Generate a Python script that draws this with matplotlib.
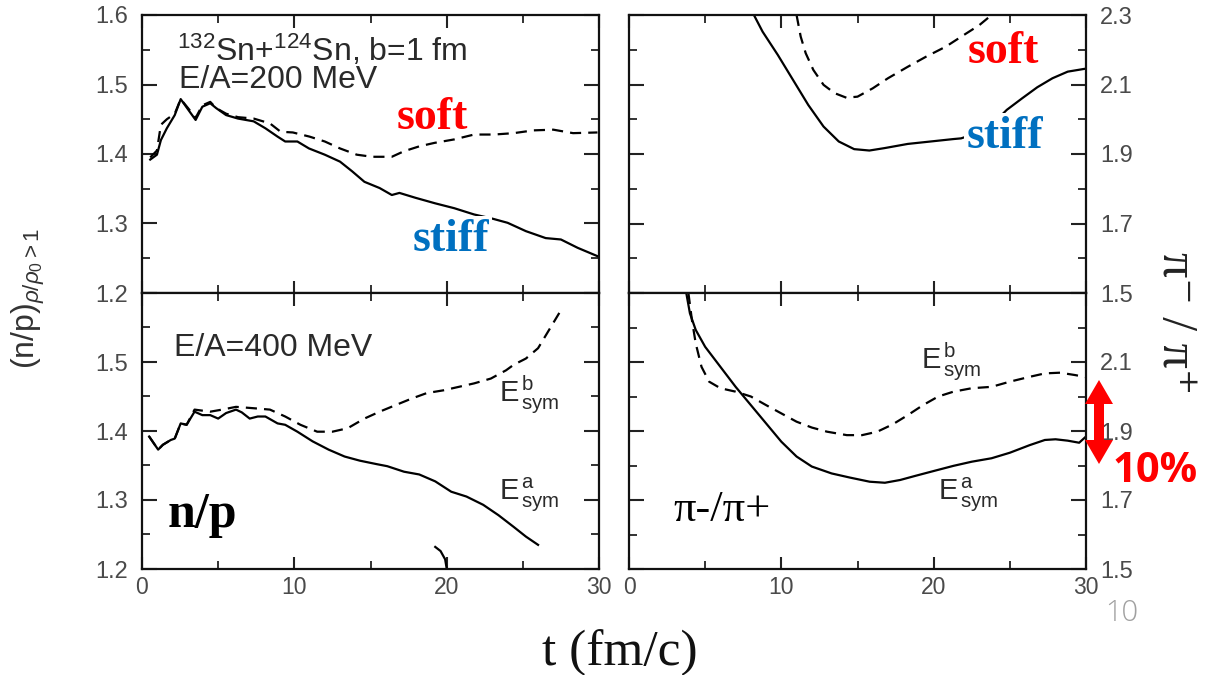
import matplotlib
matplotlib.use('Agg')
import matplotlib.pyplot as plt
from matplotlib.patches import Polygon
from matplotlib.ticker import MultipleLocator

plt.rcParams['font.family'] = ['Liberation Sans', 'DejaVu Sans']
plt.rcParams['mathtext.fontset'] = 'custom'
plt.rcParams['mathtext.rm'] = 'Liberation Sans'
plt.rcParams['mathtext.it'] = 'Liberation Sans:italic'
plt.rcParams['mathtext.bf'] = 'Liberation Sans:bold'

# ---------------- data ----------------
x_ticks = [0, 10, 20, 30]
x_tick_labels = ['0', '10', '20', '30']
np_ticks = [1.2, 1.3, 1.4, 1.5, 1.6]
np_labels_top = ['1.2', '1.3', '1.4', '1.5', '1.6']
np_labels_bot = ['1.2', '1.3', '1.4', '1.5', '']
pi_ticks = [1.5, 1.7, 1.9, 2.1, 2.3]
pi_labels_top = ['1.5', '1.7', '1.9', '2.1', '2.3']
pi_labels_bot = ['1.5', '1.7', '1.9', '2.1', '']

# n/p, E/A = 200 MeV
np200_stiff_t = [0.54, 0.98, 1.24, 1.63, 2.15, 2.54, 3.06, 3.52, 3.96, 4.48, 4.87, 5.52, 6.3, 7.33,
                 8.1, 8.9, 9.4, 10.2, 10.96, 12.0, 13.0, 13.8, 14.6, 15.6, 16.4, 16.9, 17.95, 19.25,
                 20.5, 21.8, 23.0, 24.0, 25.2, 26.5, 27.5, 28.6, 29.9]
np200_stiff_v = [1.392, 1.399, 1.420, 1.437, 1.456, 1.479, 1.463, 1.449, 1.468, 1.473, 1.466, 1.456,
                 1.451, 1.447, 1.437, 1.425, 1.418, 1.418, 1.408, 1.399, 1.389, 1.375, 1.360, 1.351,
                 1.341, 1.344, 1.337, 1.329, 1.322, 1.313, 1.307, 1.301, 1.289, 1.279, 1.277, 1.265,
                 1.253]
np200_soft_t = [0.54, 0.98, 1.24, 1.63, 2.15, 2.54, 3.06, 3.52, 3.96, 4.48, 4.87, 5.52, 6.3, 7.33,
                8.4, 9.1, 9.9, 11.0, 12.0, 13.0, 14.1, 15.1, 16.4, 17.2, 18.2, 19.2, 20.5, 21.8,
                23.1, 24.4, 25.7, 27.0, 28.3, 29.9]
np200_soft_v = [1.395, 1.405, 1.442, 1.450, 1.458, 1.479, 1.465, 1.452, 1.470, 1.475, 1.466, 1.458,
                1.453, 1.451, 1.444, 1.432, 1.431, 1.425, 1.418, 1.408, 1.399, 1.396, 1.396, 1.404,
                1.411, 1.416, 1.421, 1.428, 1.428, 1.430, 1.434, 1.435, 1.430, 1.431]

# n/p, E/A = 400 MeV
np400_a_t = [0.47, 1.06, 1.37, 1.89, 2.15, 2.54, 2.93, 3.45, 3.96, 4.48, 5.0, 5.52, 6.17, 6.55,
             7.07, 7.6, 8.1, 8.9, 9.4, 10.2, 11.2, 12.25, 13.3, 14.3, 15.4, 16.1, 17.2, 18.2,
             19.25, 20.3, 21.3, 22.4, 23.4, 24.4, 25.2, 26.0]
np400_a_v = [1.392, 1.373, 1.380, 1.387, 1.389, 1.411, 1.409, 1.428, 1.423, 1.423, 1.418, 1.426,
             1.431, 1.427, 1.418, 1.421, 1.421, 1.411, 1.409, 1.399, 1.385, 1.373, 1.363, 1.357,
             1.352, 1.349, 1.341, 1.337, 1.327, 1.312, 1.305, 1.293, 1.278, 1.261, 1.247, 1.235]
np400_b_t = [0.47, 1.06, 1.37, 1.89, 2.15, 2.54, 2.93, 3.45, 4.48, 5.26, 6.17, 7.33, 8.4, 9.4,
             10.4, 11.5, 12.5, 13.5, 14.6, 15.6, 16.7, 17.7, 18.7, 19.8, 20.8, 21.8, 22.9, 23.9,
             24.4, 25.2, 26.0, 26.6, 27.5]
np400_b_v = [1.392, 1.373, 1.380, 1.387, 1.389, 1.411, 1.409, 1.431, 1.428, 1.431, 1.435, 1.433,
             1.431, 1.421, 1.409, 1.399, 1.399, 1.404, 1.418, 1.428, 1.438, 1.447, 1.455, 1.459,
             1.464, 1.469, 1.476, 1.488, 1.496, 1.505, 1.520, 1.542, 1.575]
np400_stray_t = [19.25, 19.6, 19.9, 20.0]
np400_stray_v = [1.232, 1.226, 1.214, 1.201]

# pi-/pi+, E/A = 200 MeV
pi200_stiff_t = [8.2, 8.77, 9.77, 10.77, 11.77, 12.77, 13.77, 14.78, 15.78, 16.78, 18.3, 19.8,
                 21.3, 21.8, 23.0, 24.0, 24.8, 25.8, 26.8, 27.8, 28.8, 29.9]
pi200_stiff_v = [2.3, 2.252, 2.185, 2.113, 2.041, 1.979, 1.936, 1.914, 1.910, 1.917, 1.929, 1.936,
                 1.943, 1.945, 1.962, 1.992, 2.027, 2.060, 2.092, 2.118, 2.137, 2.145]
pi200_soft_t = [11.0, 11.27, 11.6, 12.1, 12.77, 13.5, 14.27, 15.0, 16.0, 17.0, 18.3, 19.5, 20.8,
                22.0, 23.0, 23.8]
pi200_soft_v = [2.3, 2.238, 2.19, 2.142, 2.099, 2.075, 2.062, 2.065, 2.089, 2.118, 2.151, 2.18,
                2.209, 2.243, 2.271, 2.3]

# pi-/pi+, E/A = 400 MeV
pi400_a_t = [3.76, 4.0, 4.38, 5.0, 6.0, 7.0, 8.0, 9.0, 10.0, 11.0, 12.0, 13.3, 14.5, 15.8, 16.8,
             17.8, 18.8, 20.0, 21.3, 22.5, 23.8, 25.0, 26.3, 27.3, 28.0, 28.8, 29.55, 30.0]
pi400_a_v = [2.3, 2.241, 2.193, 2.144, 2.086, 2.028, 1.975, 1.922, 1.869, 1.826, 1.797, 1.777,
             1.765, 1.753, 1.750, 1.758, 1.770, 1.784, 1.799, 1.811, 1.821, 1.837, 1.859, 1.874,
             1.876, 1.872, 1.866, 1.884]
pi400_b_t = [3.9, 4.13, 4.38, 4.76, 5.26, 6.0, 7.0, 8.0, 9.0, 10.0, 11.0, 12.0, 13.0, 14.3, 15.3,
             16.3, 17.3, 18.3, 19.3, 20.3, 21.3, 22.5, 23.8, 25.0, 26.3, 27.3, 28.3, 29.3, 30.0]
pi400_b_v = [2.3, 2.222, 2.154, 2.086, 2.043, 2.024, 2.014, 2.0, 1.975, 1.951, 1.927, 1.910,
             1.898, 1.888, 1.888, 1.898, 1.919, 1.946, 1.975, 2.0, 2.014, 2.024, 2.028, 2.043,
             2.057, 2.067, 2.069, 2.062, 2.056]

# ---------------- figure ----------------
W, H = 1208, 675
fig = plt.figure(figsize=(W / 100, H / 100), dpi=100)


def rect(x0, y0, x1, y1):
    return [x0 / W, 1 - y1 / H, (x1 - x0) / W, (y1 - y0) / H]


ax_tl = fig.add_axes(rect(142, 15, 599, 293))
ax_bl = fig.add_axes(rect(142, 293, 599, 569))
ax_tr = fig.add_axes(rect(629, 15, 1086, 293))
ax_br = fig.add_axes(rect(629, 293, 1086, 569))

TICK_COLOR = '#4a4a4a'
LW = 1.6
DASH = (5, 3.2)


def style(ax, yticks, ylabels, ylim, right, bottom_labels):
    ax.set_xlim(0, 30)
    ax.set_ylim(*ylim)
    ax.set_xticks(x_ticks)
    ax.set_xticklabels(x_tick_labels if bottom_labels else [''] * len(x_ticks))
    ax.xaxis.set_minor_locator(MultipleLocator(5))
    ax.set_yticks(yticks)
    ax.set_yticklabels(ylabels)
    step = (yticks[1] - yticks[0]) / 2
    ax.yaxis.set_minor_locator(MultipleLocator(step))
    for s in ax.spines.values():
        s.set_linewidth(1.6)
        s.set_color('#111111')
    ax.tick_params(axis='both', which='both', direction='in', top=True, bottom=True,
                   left=True, right=True, color='#222222')
    ax.tick_params(axis='y', which='major', length=11, width=1.5)
    ax.tick_params(axis='y', which='minor', length=6, width=1.3)
    ax.tick_params(axis='x', which='major', length=9, width=1.5)
    ax.tick_params(axis='x', which='minor', length=6, width=1.3)
    ax.tick_params(axis='y', labelsize=17, labelcolor=TICK_COLOR, pad=10,
                   labelleft=not right, labelright=right)
    ax.tick_params(axis='x', labelsize=16.5, labelcolor=TICK_COLOR, pad=5)


style(ax_tl, np_ticks, np_labels_top, (1.2, 1.6), False, False)
style(ax_bl, np_ticks, np_labels_bot, (1.2, 1.6), False, True)
style(ax_tr, pi_ticks, pi_labels_top, (1.5, 2.3), True, False)
style(ax_br, pi_ticks, pi_labels_bot, (1.5, 2.3), True, True)

kw_s = dict(color='black', lw=LW, solid_joinstyle='round')
kw_d = dict(color='black', lw=LW, linestyle=(0, DASH))

ax_tl.plot(np200_soft_t, np200_soft_v, **kw_d)
ax_tl.plot(np200_stiff_t, np200_stiff_v, **kw_s)
ax_bl.plot(np400_b_t, np400_b_v, **kw_d)
ax_bl.plot(np400_a_t, np400_a_v, **kw_s)
ax_bl.plot(np400_stray_t, np400_stray_v, **kw_s)
ax_tr.plot(pi200_soft_t, pi200_soft_v, **kw_d)
ax_tr.plot(pi200_stiff_t, pi200_stiff_v, **kw_s)
ax_br.plot(pi400_b_t, pi400_b_v, **kw_d)
ax_br.plot(pi400_a_t, pi400_a_v, **kw_s)

ANN = '#2a2a2a'
ax_tl.text(0.077, 0.874, r'$^{132}$Sn+$^{124}$Sn, b=1 fm', transform=ax_tl.transAxes,
           fontsize=23, color=ANN, ha='left', va='center')
ax_tl.text(0.081, 0.766, 'E/A=200 MeV', transform=ax_tl.transAxes,
           fontsize=23, color=ANN, ha='left', va='center')
ax_bl.text(0.07, 0.80, 'E/A=400 MeV', transform=ax_bl.transAxes,
           fontsize=23, color=ANN, ha='left', va='center')
for ax, x, y, s in [(ax_bl, 0.781, 0.63, 'b'), (ax_bl, 0.781, 0.268, 'a'),
                    (ax_br, 0.639, 0.75, 'b'), (ax_br, 0.676, 0.268, 'a')]:
    ax.text(x, y, r'E$^{\,\mathrm{%s}}_{\,\mathrm{sym}}$' % s, transform=ax.transAxes,
            fontsize=21, color=ANN, ha='left', va='center')

SERIF = ['Liberation Serif', 'DejaVu Serif']
white_box = dict(facecolor='white', edgecolor='none', pad=2)
ax_tl.text(0.635, 0.629, 'soft', transform=ax_tl.transAxes, fontsize=33, color='#ff0000',
           fontweight='bold', family=SERIF, ha='center', va='center')
ax_tl.text(0.676, 0.19, 'stiff', transform=ax_tl.transAxes, fontsize=33, color='#0070c0',
           fontweight='bold', family=SERIF, ha='center', va='center', bbox=white_box)
ax_tr.text(0.818, 0.867, 'soft', transform=ax_tr.transAxes, fontsize=33, color='#ff0000',
           fontweight='bold', family=SERIF, ha='center', va='center')
ax_tr.text(0.823, 0.561, 'stiff', transform=ax_tr.transAxes, fontsize=33, color='#0070c0',
           fontweight='bold', family=SERIF, ha='center', va='center', bbox=white_box)
ax_bl.text(0.133, 0.196, 'n/p', transform=ax_bl.transAxes, fontsize=36, color='black',
           fontweight='bold', family=SERIF, ha='center', va='center')
ax_br.text(0.2035, 0.214, 'π-/π+', transform=ax_br.transAxes, fontsize=32, color='black',
           family=SERIF, ha='center', va='center')

# axis titles
fig.text(28 / W, 1 - 298 / H, r'(n/p)$_{\rho/\rho_0>1}$', rotation=90, fontsize=23,
         color='#333333', ha='center', va='center')
fig.text(1175 / W, 1 - 323 / H, 'π⁻ / π⁺', rotation=-90, fontsize=36, color='#222222',
         family=SERIF, ha='center', va='center')
fig.text(620 / W, 1 - 653 / H, 't (fm/c)', fontsize=37, color='#111111', family=SERIF,
         ha='center', va='center')

# red double arrow + 10%
cx, ytop, ybot = 1099, 380, 464
hw, sw, hl = 14, 5, 24
pts = [(cx, ytop), (cx + hw, ytop + hl), (cx + sw, ytop + hl), (cx + sw, ybot - hl),
       (cx + hw, ybot - hl), (cx, ybot), (cx - hw, ybot - hl), (cx - sw, ybot - hl),
       (cx - sw, ytop + hl), (cx - hw, ytop + hl)]
fig.patches.append(Polygon([(x / W, 1 - y / H) for x, y in pts], closed=True,
                           transform=fig.transFigure, facecolor='#ff0000', edgecolor='none'))
fig.text(1113 / W, 1 - 472 / H, '10%', fontsize=30, color='#ff0000', fontweight='bold',
         family=['Open Sans', 'DejaVu Sans'], ha='left', va='center')
fig.text(1122 / W, 1 - 613 / H, '10', fontsize=21, color='#a0a0a0', fontweight='light',
         family=['Open Sans', 'DejaVu Sans'], ha='center', va='center')

fig.savefig('out.png', dpi=100)
